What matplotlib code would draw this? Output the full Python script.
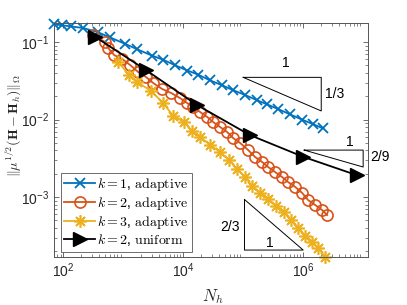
import numpy as np
import matplotlib
matplotlib.use("Agg")
import matplotlib.pyplot as plt

plt.rcParams['font.family'] = ['Liberation Sans', 'DejaVu Sans']
plt.rcParams['mathtext.fontset'] = 'cm'

# k = 1, adaptive
n_k1 = [70, 95, 132, 214, 372, 603, 1072, 1698, 3020, 4677, 7413, 11750, 17780,
        28180, 44670, 67610, 107200, 169800, 251200, 380200, 602600, 955000,
        1479000, 2138000]
e_k1 = [0.17, 0.165, 0.16, 0.152, 0.135, 0.115, 0.095, 0.081, 0.067, 0.059, 0.050,
        0.043, 0.038, 0.032, 0.0277, 0.024, 0.0208, 0.0178, 0.0157, 0.0137, 0.0117,
        0.0100, 0.0087, 0.0077]

# k = 2, adaptive
n_k2 = [316, 501, 562, 708, 962, 1309, 1778, 2415, 3162, 4467, 6310, 8913, 11670,
        14690, 19190, 25120, 31620, 41400, 54080, 68080, 89130, 121100, 158500,
        207500, 261200, 341300, 446700, 562300, 736200, 961600, 1211000, 1585000,
        2075000, 2512000]
e_k2 = [0.123, 0.1, 0.0837, 0.0679, 0.0604, 0.0505, 0.0410, 0.0353, 0.0296, 0.0248,
        0.0220, 0.0189, 0.0163, 0.0145, 0.0125, 0.0108, 0.00929, 0.00800, 0.00690,
        0.00577, 0.00498, 0.00404, 0.00328, 0.00283, 0.00244, 0.00210, 0.00181,
        0.00156, 0.00135, 0.00113, 0.000914, 0.000789, 0.000679, 0.000586]

# k = 3, adaptive
n_k3 = [826, 1259, 1710, 2931, 4642, 6813, 10400, 14130, 19190, 28180, 41400, 58480,
        79430, 107900, 141300, 191900, 261200, 354800, 482000, 631000, 826000,
        1079000, 1413000, 1778000, 2328000]
e_k3 = [0.0552, 0.0375, 0.0305, 0.0233, 0.0163, 0.0111, 0.00929, 0.00711, 0.00594,
        0.00469, 0.00381, 0.00300, 0.00230, 0.00181, 0.00139, 0.00113, 0.000942,
        0.000766, 0.000640, 0.000505, 0.000398, 0.000314, 0.000262, 0.000220,
        0.000168]

# k = 2, uniform
n_u2 = [340, 2400, 17000, 130000, 1000000, 7800000]
e_u2 = [0.117, 0.0435, 0.0154, 0.0063, 0.00331, 0.00192]

labels = [r'$k=1$, $\mathrm{adaptive}$', r'$k=2$, $\mathrm{adaptive}$',
          r'$k=3$, $\mathrm{adaptive}$', r'$k=2$, $\mathrm{uniform}$']

c_blue = '#0072BD'
c_red = '#D95319'
c_yel = '#EDB120'

fig = plt.figure(figsize=(4.07, 3.05), dpi=100)
ax = fig.add_axes([0.1327, 0.1584, 0.7723, 0.7652])

ax.loglog(n_k1, e_k1, '-', color=c_blue, marker='x', ms=6.5, mew=1.3, lw=1.3,
          label=labels[0], clip_on=False)
ax.loglog(n_k2, e_k2, '-', color=c_red, marker='o', ms=8, mfc='none', mew=1.2,
          lw=1.3, label=labels[1], clip_on=False)
ax.loglog(n_k3, e_k3, '-', color=c_yel, marker=(8, 2, 0), ms=9, mew=1.2, lw=1.3,
          label=labels[2], clip_on=False)
ax.loglog(n_u2, e_u2, '-', color='black', marker='>', ms=10, lw=1.3,
          label=labels[3], clip_on=False)

# slope triangles
tri_lw = 0.7
# 1/3
x0, x1 = 1e5, 2e6
yt = 0.0351
yb = yt * (x1 / x0) ** (-1 / 3)
ax.plot([x0, x1, x1, x0], [yt, yt, yb, yt], color='black', lw=tri_lw)
ax.text(5.2e5, 0.0531, '1', ha='center', va='center', fontsize=10)
ax.text(2.33e6, 0.0211, '1/3', ha='left', va='center', fontsize=10)
# 2/9
x0, x1 = 1.04e6, 1.0e7
yt = 0.00404
yb = yt * (x1 / x0) ** (-2 / 9)
ax.plot([x0, x1, x1, x0], [yt, yt, yb, yt], color='black', lw=tri_lw)
ax.text(6.07e6, 0.0051, '1', ha='center', va='center', fontsize=10)
ax.text(1.31e7, 0.00325, '2/9', ha='left', va='center', fontsize=10)
# 2/3
x0, x1 = 1.05e5, 1.0e6
yb = 2.07e-4
yt = yb * (x1 / x0) ** (2 / 3)
ax.plot([x0, x0, x1, x0], [yt, yb, yb, yt], color='black', lw=tri_lw)
ax.text(8.9e4, 4.14e-4, '2/3', ha='right', va='center', fontsize=10)
ax.text(2.8e5, 2.53e-4, '1', ha='center', va='center', fontsize=10)

ax.set_xlim(70, 1.22e7)
ax.set_ylim(1.7e-4, 0.175)

ax.set_xticks([1e2, 1e4, 1e6])
ax.set_yticks([1e-3, 1e-2, 1e-1])

for s in ax.spines.values():
    s.set_color('#555555')
    s.set_linewidth(0.7)
ax.tick_params(which='both', direction='in', top=True, right=True,
               colors='#555555', labelcolor='#262626', labelsize=10)
ax.tick_params(which='major', length=3.5, width=0.6)
ax.tick_params(which='minor', length=2, width=0.5)

ax.set_xlabel(r'$N_h$', fontsize=12, color='#262626')
ax.set_ylabel(r'$\|\mu^{1/2}(\mathbf{H}-\mathbf{H}_h)\|_\Omega$', fontsize=10,
              color='#262626')
ax.xaxis.set_label_coords(0.505, -0.13)
ax.yaxis.set_label_coords(-0.1, 0.56)

leg = ax.legend(loc='lower left', bbox_to_anchor=(0.022, 0.021), borderaxespad=0,
                fontsize=10, frameon=True, fancybox=False, framealpha=1,
                edgecolor='#555555', handlelength=2.2, handletextpad=0.15,
                labelspacing=0.12, borderpad=0.25)
leg.get_frame().set_linewidth(0.6)

fig.savefig('out.png', dpi=100)
